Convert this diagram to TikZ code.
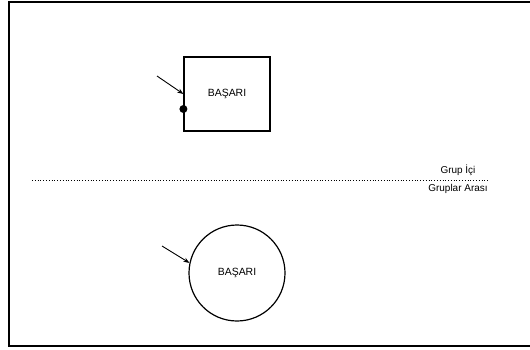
\documentclass[tikz,border=0pt]{standalone}
\usepackage{fontspec}
\setmainfont{Liberation Sans}
\usetikzlibrary{arrows.meta}
\begin{document}
\begin{tikzpicture}[x=1bp,y=-1bp,
  shapebox/.style={draw,line width=1.2bp,inner sep=0pt,font=\fontsize{10.5}{12}\selectfont},
  lbl/.style={inner sep=0pt,font=\fontsize{10}{12}\selectfont},
  pointer/.style={line width=0.9bp,-{Stealth[length=6bp,width=4.5bp]}}]
\clip (0,0) rectangle (530,349);
\fill[white] (0,0) rectangle (530,349);
\draw[line width=1.5bp] (540,2) -- (9,2) -- (9,346) -- (540,346);
% top box
\node[shapebox,rectangle,minimum width=86bp,minimum height=74bp] (box) at (227,94) {BAŞARI};
\coordinate (bstart) at (157,76);
\draw[pointer] (bstart) -- (box.west);
\node[circle,fill,inner sep=0pt,minimum size=8bp] (dot) at ([yshift=-15bp]box.west) {};
% separator
\coordinate (dl) at (32,180);
\coordinate (dr) at (488,180);
\draw[dotted,line width=0.8bp] (dl) -- (dr);
\node[lbl] (ic) at (458,170) {Grup İçi};
\node[lbl] (ar) at (458,189) {Gruplar Arası};
% circle
\node[shapebox,circle,minimum size=96bp] (circ) at (237,273) {BAŞARI};
\coordinate (cstart) at (162,246);
\draw[pointer] (cstart) -- (circ.168);
\end{tikzpicture}
\end{document}
